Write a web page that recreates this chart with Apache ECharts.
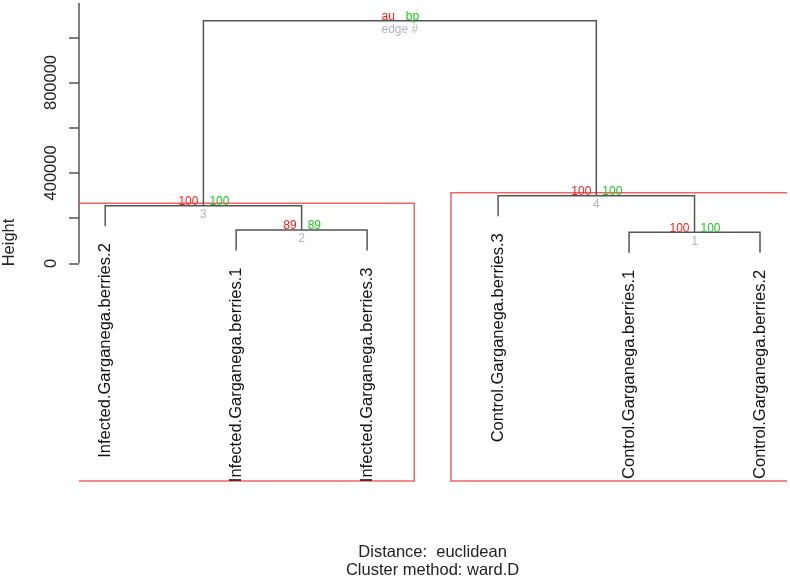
<!DOCTYPE html>
<html>
<head>
<meta charset="utf-8">
<script src="https://cdn.jsdelivr.net/npm/echarts@6/dist/echarts.min.js"></script>
<style>
  html, body { margin: 0; padding: 0; background: #fff; }
  #chart { width: 790px; height: 582px; }
</style>
</head>
<body>
<div id="chart"></div>
<script>
// pvclust dendrogram - Garganega berries (infected vs control)

const leafLabels = [
  'Infected.Garganega.berries.2',
  'Infected.Garganega.berries.1',
  'Infected.Garganega.berries.3',
  'Control.Garganega.berries.3',
  'Control.Garganega.berries.1',
  'Control.Garganega.berries.2'
];
// merge table like R hclust: negative = leaf (1-based), positive = earlier merge
const mergeLeft = [-5, -2, -1, -4, 3];
const mergeRight = [-6, -3, 2, 1, 4];
const mergeHeight = [137200, 147300, 254900, 299100, 1073600];
const auValues = [100, 89, 100, 100, null];
const bpValues = [100, 89, 100, 100, null];
const edgeIds = ['1', '2', '3', '4', null];
const rootLabels = ['au', 'bp', 'edge #'];
// pvrect boxes, x in leaf units, top in height units
const rectLeft = [0.66, 3.64];
const rectRight = [3.36, 6.33];
const rectTop = [265500, 312400];
const yTickValues = [0, 200000, 400000, 600000, 800000, 1000000];
const yLabelValues = [0, 400000, 800000];

const X_MIN = 0.8, X_MAX = 6.2;
const Y_MIN = -967700, Y_MAX = 1151800;
const HANG = 90700;
const RECT_BOTTOM = -963300;
const FONT = '"Liberation Sans", Arial, Helvetica, sans-serif';
const LINE = '#555';

function nodeX(k) {
  if (k < 0) return -k;
  return (nodeX(mergeLeft[k - 1]) + nodeX(mergeRight[k - 1])) / 2;
}
function childBottom(k, parentH) {
  return k < 0 ? parentH - HANG : mergeHeight[k - 1];
}
function leafEnd(leaf) {
  for (let i = 0; i < mergeHeight.length; i++) {
    if (mergeLeft[i] === -leaf || mergeRight[i] === -leaf) return mergeHeight[i] - HANG;
  }
  return 0;
}

const chart = echarts.init(document.getElementById('chart'));

const option = {
  backgroundColor: '#fff',
  animation: false,
  grid: { left: 79, right: 3.8, top: 3, bottom: 100, outerBoundsMode: 'none', containLabel: false },
  xAxis: { type: 'value', min: X_MIN, max: X_MAX, show: false },
  yAxis: {
    type: 'value', min: Y_MIN, max: Y_MAX,
    name: 'Height', nameLocation: 'middle', nameGap: 61,
    nameTextStyle: { fontSize: 16.5, color: '#222', fontFamily: FONT },
    axisLine: { show: false },
    splitLine: { show: false },
    axisTick: { show: true, length: 10, customValues: yTickValues, lineStyle: { color: LINE, width: 1.5 } },
    axisLabel: {
      customValues: yLabelValues, rotate: 90, margin: 19, fontSize: 16.5, color: '#222', fontFamily: FONT,
      formatter: function (v) { return String(v); }
    }
  },
  graphic: [
    { type: 'text', x: 432.6, y: 552.6, style: { text: 'Distance:  euclidean', align: 'center', verticalAlign: 'middle', fontSize: 16.5, fill: '#222', fontFamily: FONT } },
    { type: 'text', x: 432.6, y: 570.9, style: { text: 'Cluster method: ward.D', align: 'center', verticalAlign: 'middle', fontSize: 16.5, fill: '#222', fontFamily: FONT } }
  ],
  series: [
    {
      // y axis line, only over the positive heights
      type: 'custom', coordinateSystem: 'cartesian2d', clip: false, silent: true,
      data: [[X_MIN, 0]],
      renderItem: function (params, api) {
        const a = api.coord([X_MIN, 0]);
        const b = api.coord([X_MIN, Y_MAX]);
        return { type: 'line', shape: { x1: a[0], y1: a[1], x2: b[0], y2: b[1] }, style: { stroke: LINE, lineWidth: 1.5 } };
      }
    },
    {
      // pvrect boxes
      type: 'custom', coordinateSystem: 'cartesian2d', clip: true, silent: true,
      data: rectLeft.map(function (x, i) { return [x, rectTop[i], i]; }),
      renderItem: function (params, api) {
        const i = params.dataIndex;
        const p1 = api.coord([rectLeft[i], rectTop[i]]);
        const p2 = api.coord([rectRight[i], RECT_BOTTOM]);
        return {
          type: 'rect',
          shape: { x: p1[0], y: p1[1], width: p2[0] - p1[0], height: p2[1] - p1[1] },
          style: { fill: 'none', stroke: '#f06464', lineWidth: 1.5 }
        };
      }
    },
    {
      // dendrogram branches + au/bp/edge labels
      type: 'custom', coordinateSystem: 'cartesian2d', clip: false, silent: true,
      data: mergeHeight.map(function (h, i) { return [nodeX(i + 1), h, i]; }),
      renderItem: function (params, api) {
        const i = params.dataIndex;
        const l = mergeLeft[i], r = mergeRight[i], h = mergeHeight[i];
        const pl = api.coord([nodeX(l), childBottom(l, h)]);
        const tl = api.coord([nodeX(l), h]);
        const tr = api.coord([nodeX(r), h]);
        const pr = api.coord([nodeX(r), childBottom(r, h)]);
        const c = api.coord([nodeX(i + 1), h]);
        const isRoot = auValues[i] == null;
        const au = isRoot ? rootLabels[0] : String(auValues[i]);
        const bp = isRoot ? rootLabels[1] : String(bpValues[i]);
        const ed = isRoot ? rootLabels[2] : edgeIds[i];
        return {
          type: 'group',
          children: [
            { type: 'polyline', shape: { points: [pl, tl, tr, pr] }, style: { fill: 'none', stroke: LINE, lineWidth: 1.5 } },
            { type: 'text', x: c[0] - 5, y: c[1] + 2, style: { text: au, align: 'right', verticalAlign: 'bottom', fontSize: 12, fill: '#ff1a1a', fontFamily: FONT } },
            { type: 'text', x: c[0] + 6, y: c[1] + 2, style: { text: bp, align: 'left', verticalAlign: 'bottom', fontSize: 12, fill: '#1ec81e', fontFamily: FONT } },
            { type: 'text', x: c[0], y: c[1] + 3, style: { text: ed, align: 'center', verticalAlign: 'top', fontSize: 12, fill: '#b4b4b4', fontFamily: FONT } }
          ]
        };
      }
    },
    {
      // leaf labels, vertical
      type: 'custom', coordinateSystem: 'cartesian2d', clip: false, silent: true,
      data: leafLabels.map(function (name, i) { return [i + 1, leafEnd(i + 1)]; }),
      renderItem: function (params, api) {
        const p = api.coord([api.value(0), api.value(1)]);
        return {
          type: 'text', x: p[0], y: p[1] + 17, rotation: Math.PI / 2,
          style: { text: leafLabels[params.dataIndex], align: 'right', verticalAlign: 'middle', fontSize: 16.5, fill: '#111', fontFamily: FONT }
        };
      }
    }
  ]
};

chart.setOption(option);
window.onresize = function () { chart.resize(); };
</script>
</body>
</html>
